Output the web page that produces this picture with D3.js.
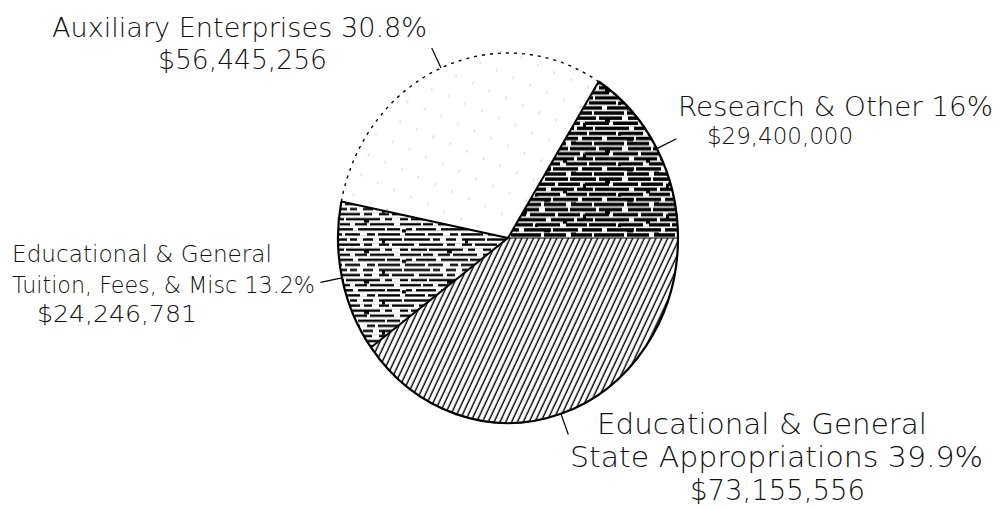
<!DOCTYPE html>
<html lang="en">
<head>
<meta charset="UTF-8">
<title>Revenue pie</title>
<script src="https://cdn.jsdelivr.net/npm/d3@7"></script>
<style>
  body { margin: 0; background: #fff; }
  text {
    fill: #111;
    font-family: "DejaVu Sans", sans-serif;
    font-weight: 200;
  }
</style>
</head>
<body>
<svg id="chart" width="1000" height="510"></svg>
<script>
// data, clockwise from the Research slice
var categories = ["Research & Other",
                  "Educational & General State Appropriations",
                  "Educational & General Tuition, Fees, & Misc",
                  "Auxiliary Enterprises"];
var amounts = [29400000, 73155556, 24246781, 56445256];
var percents = ["16%", "39.9%", "13.2%", "30.8%"];

// label text, line by line (null = the dollar amount)
var labelLines = [
  ["Research & Other " + percents[0], null],
  ["Educational & General", "State Appropriations " + percents[1], null],
  ["Educational & General", "Tuition, Fees, & Misc " + percents[2], null],
  ["Auxiliary Enterprises " + percents[3], null]
];

// label layout: [x, baseline y, width, font size] per line
var labelPos = [
  [[678, 116, 315, 27], [707, 144, 146, 23]],
  [[597, 434, 330, 29], [570, 467, 413, 29], [690, 500, 175, 29]],
  [[12, 262, 260, 23], [12, 293, 303, 23], [37, 322, 160, 23]],
  [[52, 37, 375, 27], [158, 69, 169, 27]]
];

var svg = d3.select("#chart");
var cx = 508, cy = 238, rx = 170, ry = 185;
var money = d3.format("$,");

var defs = svg.append("defs");

// steep diagonal hatch for state appropriations
var p1 = defs.append("pattern").attr("id", "hatch")
  .attr("patternUnits", "userSpaceOnUse")
  .attr("width", 5.2).attr("height", 10)
  .attr("patternTransform", "rotate(27)");
p1.append("rect").attr("width", 5.2).attr("height", 10).attr("fill", "#fff");
p1.append("line").attr("x1", 2).attr("x2", 2).attr("y1", 0).attr("y2", 10)
  .attr("stroke", "#000").attr("stroke-width", 1.4);

// ragged horizontal lines, gaps differ row to row
var rowGaps = [
  [[5, 3], [31, 6], [60, 2]],
  [[18, 4], [47, 3], [72, 5]],
  [[2, 2], [38, 5], [66, 3]],
  [[25, 3], [52, 6], [79, 2]],
  [[11, 5], [43, 2], [70, 4]],
  [[0, 3], [33, 3], [58, 5]]
];
function ragged(id, lw, extraGaps, blobs) {
  var w = 83, h = 28, step = h / rowGaps.length;
  var p = defs.append("pattern").attr("id", id)
    .attr("patternUnits", "userSpaceOnUse")
    .attr("width", w).attr("height", h);
  p.append("rect").attr("width", w).attr("height", h).attr("fill", "#fff");
  rowGaps.forEach(function(gaps, k) {
    var y = k * step + 0.3;
    p.append("rect").attr("y", y).attr("width", w).attr("height", lw).attr("fill", "#000");
    gaps.concat(extraGaps[k] || []).forEach(function(gp) {
      p.append("rect").attr("x", gp[0]).attr("y", y - 0.2)
        .attr("width", gp[1]).attr("height", lw + 0.4).attr("fill", "#fff");
    });
  });
  blobs.forEach(function(b) {
    p.append("rect").attr("x", b[0]).attr("y", b[1]).attr("width", b[2]).attr("height", b[3]).attr("fill", "#000");
  });
}
ragged("research", 3.2, [],
  [[14, 2, 5, 4], [55, 11, 4, 4], [36, 20, 6, 3], [75, 6, 3, 4], [27, 15, 3, 3], [63, 23, 5, 3]]);
ragged("tuition", 2.2,
  [[[15, 6]], [[30, 7]], [[50, 8]], [[8, 5]], [[58, 6]], [[18, 7]]],
  [[22, 11, 5, 3], [60, 20, 4, 3], [40, 2, 3, 3]]);

// sparse broken hatch for auxiliary
var p4 = defs.append("pattern").attr("id", "aux")
  .attr("patternUnits", "userSpaceOnUse")
  .attr("width", 18).attr("height", 40)
  .attr("patternTransform", "rotate(22)");
p4.append("rect").attr("width", 18).attr("height", 40).attr("fill", "#fff");
p4.append("line").attr("x1", 4).attr("x2", 4).attr("y1", 0).attr("y2", 40)
  .attr("stroke", "#c8c8c8").attr("stroke-width", 0.8)
  .attr("stroke-dasharray", "3 17");

var fills = ["url(#research)", "url(#hatch)", "url(#tuition)", "url(#aux)"];

var pie = d3.pie().sort(null)
  .startAngle(0.5627)
  .endAngle(0.5627 + 2 * Math.PI);
var arcs = pie(amounts);

var arc = d3.arc().innerRadius(0).outerRadius(rx);

var g = svg.append("g")
  .attr("transform", "translate(" + cx + "," + cy + ") scale(1," + (ry / rx) + ")");

g.selectAll("path.slice")
  .data(arcs)
  .enter().append("path")
    .attr("class", "slice")
    .attr("d", arc)
    .attr("fill", function(d, i) { return fills[i]; });

// radial edges
g.selectAll("line.edge")
  .data(arcs)
  .enter().append("line")
    .attr("class", "edge")
    .attr("x1", 0).attr("y1", 0)
    .attr("x2", function(d) { return rx * Math.sin(d.startAngle); })
    .attr("y2", function(d) { return -rx * Math.cos(d.startAngle); })
    .attr("stroke", "#000")
    .attr("stroke-width", function(d, i) { return i == 1 ? 1.2 : 2; })
    .attr("vector-effect", "non-scaling-stroke");

// outer rim: solid, except the auxiliary part which is dotted
g.selectAll("path.rim")
  .data(arcs)
  .enter().append("path")
    .attr("class", "rim")
    .attr("d", function(d) {
      var p = d3.path();
      p.arc(0, 0, rx, d.startAngle - Math.PI / 2, d.endAngle - Math.PI / 2);
      return p.toString();
    })
    .attr("fill", "none")
    .attr("stroke", "#000")
    .attr("stroke-width", function(d, i) { return i == 3 ? 1.4 : 2.2; })
    .attr("stroke-dasharray", function(d, i) { return i == 3 ? "3 5" : null; })
    .attr("vector-effect", "non-scaling-stroke");

// leader lines: from the rim at mid angle, outwards
function rimPoint(a) {
  return [cx + rx * Math.sin(a), cy - ry * Math.cos(a)];
}
svg.selectAll("line.leader")
  .data(arcs)
  .enter().append("line")
    .attr("class", "leader")
    .each(function(d) {
      var a = (d.startAngle + d.endAngle) / 2;
      var p = rimPoint(a);
      var dx = Math.sin(a) * ry, dy = -Math.cos(a) * rx;
      var len = Math.sqrt(dx * dx + dy * dy);
      d3.select(this)
        .attr("x1", p[0]).attr("y1", p[1])
        .attr("x2", p[0] + 22 * dx / len)
        .attr("y2", p[1] + 22 * dy / len);
    })
    .attr("stroke", "#000")
    .attr("stroke-width", 1.2);

// labels
labelLines.forEach(function(lines, i) {
  lines.forEach(function(t, j) {
    var txt = t === null ? money(amounts[i]) : t;
    var lp = labelPos[i][j];
    svg.append("text")
      .attr("x", lp[0])
      .attr("y", lp[1])
      .attr("font-size", lp[3] + "px")
      .attr("textLength", lp[2])
      .attr("lengthAdjust", "spacingAndGlyphs")
      .text(txt);
  });
});
</script>
</body>
</html>
